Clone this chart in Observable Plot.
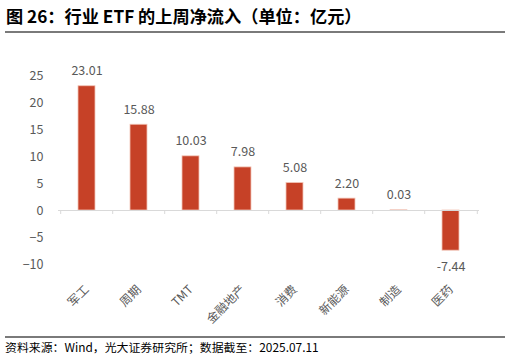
<!DOCTYPE html>
<html>
<head>
<meta charset="utf-8">
<script src="https://cdn.jsdelivr.net/npm/d3@7"></script>
<script src="https://cdn.jsdelivr.net/npm/@observablehq/plot@0.6"></script>
<style>
  html, body { margin: 0; padding: 0; background: #fff; }
  body { width: 511px; height: 358px; position: relative; overflow: hidden;
         font-family: "Noto Sans CJK SC", "Noto Sans", sans-serif; }
  #title { position: absolute; left: 6px; top: 3px; font-size: 17.2px; font-weight: bold; color: #000; white-space: nowrap; }
  #topline { position: absolute; left: 5px; width: 500px; top: 31px; height: 2px; background: #7a7a7a; }
  #chart { position: absolute; left: 0; top: 40px; }
  #botline { position: absolute; left: 5px; width: 500px; top: 336px; height: 2px; background: #7a7a7a; }
  #caption { position: absolute; left: 5px; top: 338px; font-size: 11.9px; color: #000; white-space: nowrap; }
</style>
</head>
<body>
<div id="title">图 26：行业 ETF 的上周净流入（单位：亿元）</div>
<div id="topline"></div>
<div id="chart"></div>
<div id="botline"></div>
<div id="caption">资料来源：Wind，光大证券研究所；数据截至：2025.07.11</div>
<script>
const categories = ["军工", "周期", "TMT", "金融地产", "消费", "新能源", "制造", "医药"];
const values = [23.01, 15.88, 10.03, 7.98, 5.08, 2.20, 0.03, -7.44];
const valueLabels = ["23.01", "15.88", "10.03", "7.98", "5.08", "2.20", "0.03", "-7.44"];
const yTicks = [-10, -5, 0, 5, 10, 15, 20, 25];

const data = categories.map((c, i) => ({cat: c, v: values[i], label: valueLabels[i]}));

const W = 511, H = 295, mL = 58, mR = 32, mT = 35, mB = 71;
const step = (W - mL - mR) / categories.length;
const barColor = "#C64127";
const textColor = "#595959";

const chart = Plot.plot({
  width: W,
  height: H,
  marginLeft: mL,
  marginRight: mR,
  marginTop: mT,
  marginBottom: mB,
  style: {fontFamily: '"Noto Sans CJK SC", "Noto Sans", sans-serif', fontSize: "12px", color: textColor, background: "transparent"},
  x: {domain: categories, paddingInner: 0.68, paddingOuter: 0.34, label: null},
  y: {domain: [-10, 25], label: null},
  marks: [
    Plot.axisY({ticks: yTicks, tickSize: 0, tickPadding: 15, fontSize: 12.5, fill: textColor, label: null}),
    Plot.axisX({tickSize: 0, tickPadding: 23, tickRotate: -45, fontSize: 12, fill: textColor, label: null}),
    Plot.barY(data, {x: "cat", y: "v", fill: barColor, stroke: "#f2c4b6", strokeWidth: 0.8}),
    Plot.ruleY([0], {stroke: "#d9d9d9", strokeWidth: 1}),
    Plot.ruleX(data, {x: "cat", y1: 0, y2: 0, insetBottom: -4, dx: -step / 2, stroke: "#d9d9d9"}),
    Plot.ruleX(data.slice(-1), {x: "cat", y1: 0, y2: 0, insetBottom: -4, dx: step / 2, stroke: "#d9d9d9"}),
    Plot.text(data, {x: "cat", y: "v", text: "label", dy: -15, fontSize: 12.5, fill: textColor, filter: d => d.v >= 0}),
    Plot.text(data, {x: "cat", y: "v", text: "label", dy: 16, fontSize: 12.5, fill: textColor, filter: d => d.v < 0})
  ]
});
document.getElementById("chart").appendChild(chart);
</script>
</body>
</html>
